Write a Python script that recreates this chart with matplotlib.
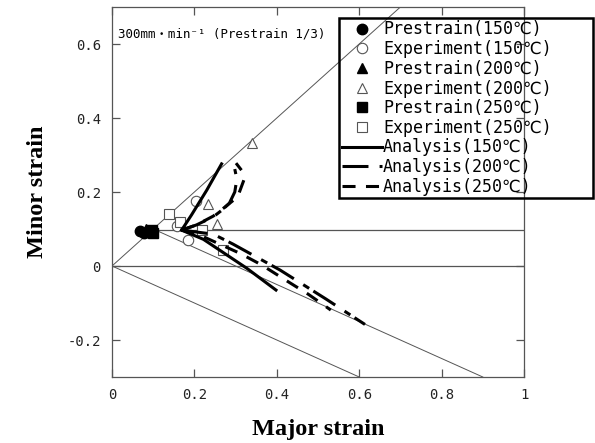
import numpy as np
import matplotlib
matplotlib.use("Agg")
import matplotlib.pyplot as plt
from matplotlib.ticker import FuncFormatter

plt.rcParams['axes.unicode_minus'] = False
plt.rcParams['lines.scale_dashes'] = False

mono = ['DejaVu Sans Mono', 'DejaVu Sans', 'Noto Sans CJK JP']

# prestrain points (filled markers)
pre_150_x = [0.068, 0.078]
pre_150_y = [0.095, 0.088]
pre_200_x = [0.083, 0.090]
pre_200_y = [0.100, 0.092]
pre_250_x = [0.097, 0.100]
pre_250_y = [0.097, 0.090]

# experiment points (open markers)
exp_150_x = [0.204, 0.157, 0.185]
exp_150_y = [0.177, 0.109, 0.070]
exp_200_x = [0.234, 0.256, 0.341]
exp_200_y = [0.167, 0.114, 0.332]
exp_250_x = [0.138, 0.165, 0.218, 0.270]
exp_250_y = [0.140, 0.120, 0.097, 0.043]

# analysis curves: upper branch and lower branch
ana_150_up_x = [0.169, 0.193, 0.230, 0.266]
ana_150_up_y = [0.097, 0.138, 0.205, 0.276]
ana_150_dn_x = [0.169, 0.222, 0.327, 0.398]
ana_150_dn_y = [0.097, 0.072, -0.006, -0.065]

ana_200_up_x = [0.169, 0.205, 0.246, 0.268, 0.285, 0.298, 0.303, 0.298]
ana_200_up_y = [0.097, 0.111, 0.133, 0.152, 0.170, 0.200, 0.235, 0.262]
ana_200_dn_x = [0.169, 0.246, 0.294, 0.408, 0.519, 0.614]
ana_200_dn_y = [0.097, 0.086, 0.059, -0.011, -0.089, -0.158]

ana_250_up_x = [0.169, 0.205, 0.246, 0.275, 0.305, 0.320, 0.315, 0.301]
ana_250_up_y = [0.097, 0.111, 0.135, 0.160, 0.187, 0.232, 0.258, 0.278]
ana_250_dn_x = [0.169, 0.222, 0.311, 0.363, 0.424, 0.476, 0.531]
ana_250_dn_y = [0.097, 0.079, 0.034, 0.003, -0.040, -0.076, -0.119]

fig = plt.figure(figsize=(5.95, 4.43), dpi=100)
ax = fig.add_axes([112/595, 1-377/443, 412/595, 370/443])

gray = '#555555'
# guide lines
ax.plot([0, 0.7], [0, 0.7], color=gray, lw=0.7, zorder=1)
ax.plot([0, 0.6], [0, -0.3], color=gray, lw=0.7, zorder=1)
ax.plot([0.1, 0.9], [0.1, -0.3], color=gray, lw=0.7, zorder=1, clip_on=False)
ax.plot([0.1, 1.0], [0.097, 0.097], color=gray, lw=0.9, zorder=1)
ax.plot([0, 1.0], [0, 0], color=gray, lw=0.9, zorder=1)

ms = 7.5
ax.plot(pre_150_x, pre_150_y, 'o', color='black', ms=ms, ls='none', label='Prestrain(150℃)', zorder=3)
ax.plot(exp_150_x, exp_150_y, 'o', mfc='white', mec=gray, mew=0.8, ms=ms, ls='none', label='Experiment(150℃)', zorder=3)
ax.plot(pre_200_x, pre_200_y, '^', color='black', ms=ms, ls='none', label='Prestrain(200℃)', zorder=3)
ax.plot(exp_200_x, exp_200_y, '^', mfc='white', mec=gray, mew=0.8, ms=ms, ls='none', label='Experiment(200℃)', zorder=3)
ax.plot(pre_250_x, pre_250_y, 's', color='black', ms=ms-1, ls='none', label='Prestrain(250℃)', zorder=3)
ax.plot(exp_250_x, exp_250_y, 's', mfc='white', mec=gray, mew=0.8, ms=ms-1, ls='none', label='Experiment(250℃)', zorder=3)

lw = 2.2
ax.plot(ana_150_up_x, ana_150_up_y, color='black', lw=lw, label='Analysis(150℃)', zorder=4)
ax.plot(ana_150_dn_x, ana_150_dn_y, color='black', lw=lw, zorder=4)

dd = (18.7, 8.0, 5.0, 3.6)
ax.plot(ana_200_up_x, ana_200_up_y, color='black', lw=lw, dashes=dd, label='Analysis(200℃)', zorder=4)
ax.plot(ana_200_dn_x, ana_200_dn_y, color='black', lw=lw, dashes=dd, zorder=4)

dsh = (9.4, 7.5)
ax.plot(ana_250_up_x, ana_250_up_y, color='black', lw=lw, dashes=dsh, label='Analysis(250℃)', zorder=4)
ax.plot(ana_250_dn_x, ana_250_dn_y, color='black', lw=lw, dashes=dsh, zorder=4)

ax.set_xlim(0, 1)
ax.set_ylim(-0.3, 0.7)
ax.set_xticks([0, 0.2, 0.4, 0.6, 0.8, 1.0])
ax.set_yticks([-0.2, 0, 0.2, 0.4, 0.6])
fmt = FuncFormatter(lambda v, p: f"{v:g}")
ax.xaxis.set_major_formatter(fmt)
ax.yaxis.set_major_formatter(fmt)
ax.tick_params(direction='in', length=6, width=0.9, color=gray, top=True, right=True,
               labelsize=10, pad=8, labelcolor='#222222')
for lab in ax.get_xticklabels() + ax.get_yticklabels():
    lab.set_family(mono)
for sp in ax.spines.values():
    sp.set_color(gray)
    sp.set_linewidth(0.9)

ax.set_xlabel('Major strain', family='Liberation Serif', fontweight='bold', fontsize=17.5, labelpad=12)
ax.set_ylabel('Minor strain', family='Liberation Serif', fontweight='bold', fontsize=17.5, labelpad=14)

ax.text(0.015, 0.627, '300mm・min⁻¹ (Prestrain 1/3)', family=mono, fontsize=9,
        ha='left', va='center')

leg = fig.legend(loc='upper left', bbox_to_anchor=(339/595, 1-197/443, 254/595, 179/443),
                 mode='expand', borderaxespad=0, prop={'family': mono, 'size': 12},
                 handlelength=2.4, handletextpad=0.1, labelspacing=0.1, borderpad=0.15,
                 fancybox=False, edgecolor='black', facecolor='none', framealpha=1)
leg.get_frame().set_linewidth(1.8)

fig.savefig('out.png', dpi=100)
